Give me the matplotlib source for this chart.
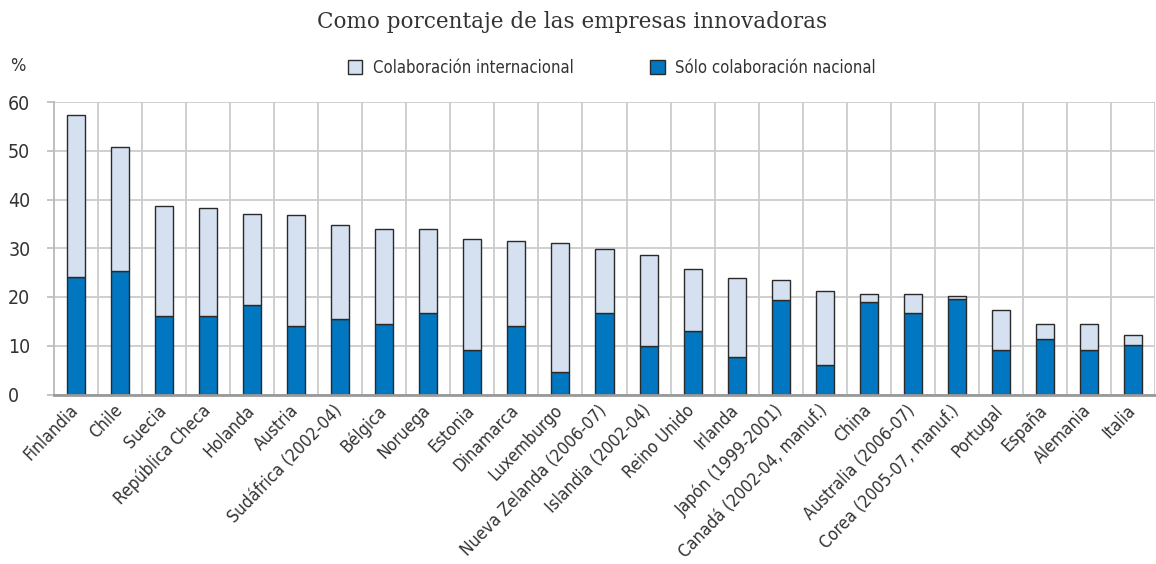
import numpy as np
import matplotlib
matplotlib.use('Agg')
import matplotlib.pyplot as plt
from matplotlib import font_manager
from matplotlib.patches import Patch
from matplotlib.transforms import ScaledTranslation

# pick a narrow sans if one is around
fonts = font_manager.fontManager.ttflist
names = {f.name for f in fonts}
if 'Liberation Sans Narrow' in names:
    plt.rcParams['font.family'] = ['Liberation Sans Narrow', 'DejaVu Sans']
elif any(f.name == 'DejaVu Sans' and f.stretch == 'condensed' for f in fonts):
    plt.rcParams['font.family'] = ['DejaVu Sans']
    plt.rcParams['font.stretch'] = 'condensed'
else:
    plt.rcParams['font.family'] = ['Roboto', 'DejaVu Sans']

countries = ['Finlandia', 'Chile', 'Suecia', 'República Checa', 'Holanda', 'Austria',
             'Sudáfrica (2002-04)', 'Bélgica', 'Noruega', 'Estonia', 'Dinamarca',
             'Luxemburgo', 'Nueva Zelanda (2006-07)', 'Islandia (2002-04)', 'Reino Unido',
             'Irlanda', 'Japón (1999-2001)', 'Canadá (2002-04, manuf.)', 'China',
             'Australia (2006-07)', 'Corea (2005-07, manuf.)', 'Portugal', 'España',
             'Alemania', 'Italia']
# total share of innovative firms that collaborate (top of each bar)
total = [57.4, 50.7, 38.7, 38.3, 37.1, 36.8, 34.8, 33.9, 34.0, 32.0, 31.4, 31.1, 29.8,
         28.6, 25.7, 23.8, 23.5, 21.3, 20.6, 20.6, 20.3, 17.4, 14.5, 14.5, 12.3]
# national-only collaboration (blue part)
nacional = [24.1, 25.4, 16.2, 16.2, 18.3, 14.0, 15.5, 14.5, 16.8, 9.2, 14.0, 4.7, 16.8,
            9.9, 13.0, 7.7, 19.3, 6.1, 19.0, 16.7, 19.6, 9.1, 11.4, 9.1, 10.1]

blue = '#0077C0'
light = '#D5E1F0'
edge = '#2a2a2a'
txt = '#333333'

total = np.array(total)
nacional = np.array(nacional)
x = np.arange(len(countries))

fig = plt.figure(figsize=(11.56, 5.64), dpi=100)
ax = fig.add_axes([54/1156, 1-394.5/564, 1101/1156, 292.5/564])

ax.bar(x, nacional, width=0.41, color=blue, edgecolor=edge, linewidth=1.0, zorder=3)
ax.bar(x, total - nacional, bottom=nacional, width=0.41, color=light,
       edgecolor=edge, linewidth=1.0, zorder=3)

ax.set_xlim(-0.5, len(countries) - 0.5)
ax.set_ylim(0, 60)
ax.set_yticks(np.arange(0, 61, 10))
ax.set_xticks(x)
ax.set_xticks(np.arange(-0.5, len(countries), 1), minor=True)
ax.set_xticklabels(countries, rotation=46, ha='right', rotation_mode='anchor',
                   fontsize=12.5, color=txt)
ax.tick_params(axis='x', which='both', length=0, pad=5)
ax.tick_params(axis='y', length=5, width=1.2, color='#bbbbbb', labelsize=14,
               labelcolor=txt, pad=28)
# nudge rotated labels a bit left so they end at the bar centre
shift = ScaledTranslation(-5/72, 0, fig.dpi_scale_trans)
for lab in ax.get_xticklabels():
    lab.set_transform(lab.get_transform() + shift)
for lab in ax.get_yticklabels():
    lab.set_horizontalalignment('left')

ax.grid(axis='y', color='#cccccc', linewidth=1.3, zorder=0)
ax.grid(axis='x', which='minor', color='#cccccc', linewidth=1.3, zorder=0)
for s in ['top', 'right']:
    ax.spines[s].set_visible(False)
ax.spines['left'].set_color('#bbbbbb')
ax.spines['left'].set_linewidth(1.3)
ax.spines['bottom'].set_color('#999999')
ax.spines['bottom'].set_linewidth(2)
ax.spines['bottom'].set_zorder(4)

fig.text(572/1156, 1-22/564, 'Como porcentaje de las empresas innovadoras',
         ha='center', va='center', fontsize=15.5, family='DejaVu Serif',
         stretch='normal', color=txt)
fig.text(18/1156, 1-66/564, '%', ha='center', va='center', fontsize=13, color=txt)

handles = [Patch(facecolor=light, edgecolor=edge, linewidth=1.0),
           Patch(facecolor=blue, edgecolor=edge, linewidth=1.0)]
leg = fig.legend(handles, ['Colaboración internacional', 'Sólo colaboración nacional'],
                 loc='center left', bbox_to_anchor=(348/1156, 1-68/564), ncol=2,
                 frameon=False, fontsize=12, handlelength=0.85, handleheight=0.9,
                 handletextpad=0.65, columnspacing=4.6, borderaxespad=0,
                 borderpad=0)
for t in leg.get_texts():
    t.set_color(txt)

fig.savefig('out.png', dpi=100)
